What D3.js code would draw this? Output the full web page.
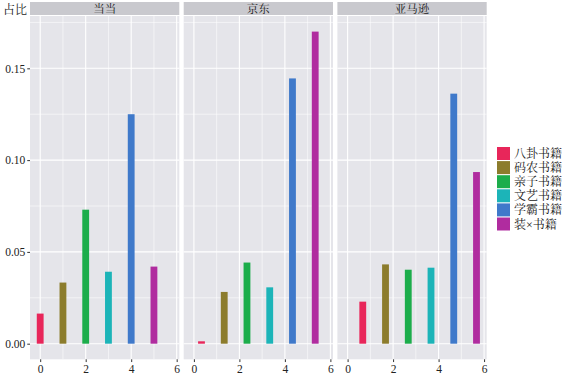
<!DOCTYPE html>
<html><head><meta charset="utf-8">
<script src="https://cdn.jsdelivr.net/npm/d3@7"></script>
<style>
body{margin:0;background:#fff;}
text{font-family:"Liberation Serif","Noto Serif CJK SC","Noto Sans CJK SC",serif;}
</style></head>
<body><svg id="c" width="566" height="377"></svg>
<script>
const platforms = ["当当","京东","亚马逊"];
const categories = ["八卦书籍","码农书籍","亲子书籍","文艺书籍","学霸书籍","装×书籍"];
const offsets = [0, 1/3, 2/3];
const valuesDangdang = [0.0164, 0.0333, 0.0730, 0.0392, 0.1250, 0.0420];
const valuesJingdong = [0.0013, 0.0282, 0.0442, 0.0307, 0.1445, 0.1700];
const valuesAmazon   = [0.0229, 0.0432, 0.0403, 0.0414, 0.1362, 0.0935];
const seriesValues = [valuesDangdang, valuesJingdong, valuesAmazon];
const colors = ["#E8265A","#8C7C2C","#1CAD4B","#1CB4B8","#3F79CA","#B02C9F"];
const yTicks = [0, 0.05, 0.10, 0.15];
const yMinor = [0.025, 0.075, 0.125, 0.175];
const xTicks = [0, 2, 4, 6];
const xMinor = [1, 3, 5];
const barWidth = 0.3;

const svg = d3.select("#c");
const panelTop = 16, panelBottom = 359.3, stripTop = 2;
const panelLeft = 30, panelRight = 486.7, gap = 4.4;
const pw = (panelRight - panelLeft - 2*gap)/3;

// shared scales (ggplot-like expansion)
const allX = [];
seriesValues.forEach((s,p)=>s.forEach((v,i)=>{allX.push(i+offsets[p]-barWidth/2, i+offsets[p]+barWidth/2);}));
const xmin = d3.min(allX), xmax = d3.max(allX), xr = xmax-xmin;
const ymaxData = d3.max(seriesValues.flat());
const yExp = ymaxData*0.05;
const y = d3.scaleLinear().domain([0 - yExp, ymaxData + yExp]).range([panelBottom, panelTop]);

const fillPanel = "#E5E5EA", fillStrip = "#C9C9CE";

platforms.forEach((plat,p)=>{
  const x0 = panelLeft + p*(pw+gap);
  const x = d3.scaleLinear().domain([xmin - 0.05*xr, xmax + 0.05*xr]).range([x0, x0+pw]);
  const g = svg.append("g");
  // strip
  g.append("rect").attr("x",x0).attr("y",stripTop).attr("width",pw).attr("height",panelTop-stripTop-1).attr("fill",fillStrip);
  g.append("text").attr("x",x0+pw/2).attr("y",13).attr("text-anchor","middle").attr("font-size",11.5).attr("fill","#1a1a1a").text(plat);
  // panel
  g.append("rect").attr("x",x0).attr("y",panelTop).attr("width",pw).attr("height",panelBottom-panelTop).attr("fill",fillPanel);
  // grid
  g.selectAll(".ymn").data(yMinor).join("line").attr("x1",x0).attr("x2",x0+pw).attr("y1",d=>y(d)).attr("y2",d=>y(d)).attr("stroke","#fff").attr("stroke-width",0.55);
  g.selectAll(".xmn").data(xMinor).join("line").attr("y1",panelTop).attr("y2",panelBottom).attr("x1",d=>x(d)).attr("x2",d=>x(d)).attr("stroke","#fff").attr("stroke-width",0.55);
  g.selectAll(".ymj").data(yTicks).join("line").attr("x1",x0).attr("x2",x0+pw).attr("y1",d=>y(d)).attr("y2",d=>y(d)).attr("stroke","#fff").attr("stroke-width",1.1);
  g.selectAll(".xmj").data(xTicks).join("line").attr("y1",panelTop).attr("y2",panelBottom).attr("x1",d=>x(d)).attr("x2",d=>x(d)).attr("stroke","#fff").attr("stroke-width",1.1);
  // bars
  g.selectAll(".bar").data(seriesValues[p]).join("rect")
    .attr("x",(d,i)=>x(i+offsets[p]-barWidth/2))
    .attr("width",(d,i)=>x(i+offsets[p]+barWidth/2)-x(i+offsets[p]-barWidth/2))
    .attr("y",d=>y(d)).attr("height",d=>y(0)-y(d))
    .attr("fill",(d,i)=>colors[i]);
  // x axis
  const ax = g.append("g").attr("transform",`translate(0,${panelBottom})`)
    .call(d3.axisBottom(x).tickValues(xTicks).tickSize(2.75).tickPadding(3).tickFormat(d3.format("d")));
  ax.select(".domain").remove();
  ax.selectAll("line").attr("stroke","#333");
  ax.selectAll("text").attr("font-size",11.5).attr("fill","#222").attr("font-family","Liberation Serif, serif");
  if(p===0){
    const ay = g.append("g").attr("transform",`translate(${x0},0)`)
      .call(d3.axisLeft(y).tickValues(yTicks).tickSize(2.75).tickPadding(2).tickFormat(d3.format(".2f")));
    ay.select(".domain").remove();
    ay.selectAll("line").attr("stroke","#333");
    ay.selectAll("text").attr("font-size",11.5).attr("fill","#222").attr("font-family","Liberation Serif, serif");
  }
});

// y title
svg.append("text").attr("x",3).attr("y",14).attr("font-size",12).attr("fill","#1a1a1a").text("占比");

// legend
const lg = svg.append("g").attr("transform","translate(497,147)");
categories.forEach((c,i)=>{
  lg.append("rect").attr("x",0).attr("y",i*14.1).attr("width",13).attr("height",13).attr("fill",colors[i]);
  lg.append("text").attr("x",17).attr("y",i*14.1+11).attr("font-size",12).attr("fill","#1a1a1a").text(c);
});
</script></body></html>
